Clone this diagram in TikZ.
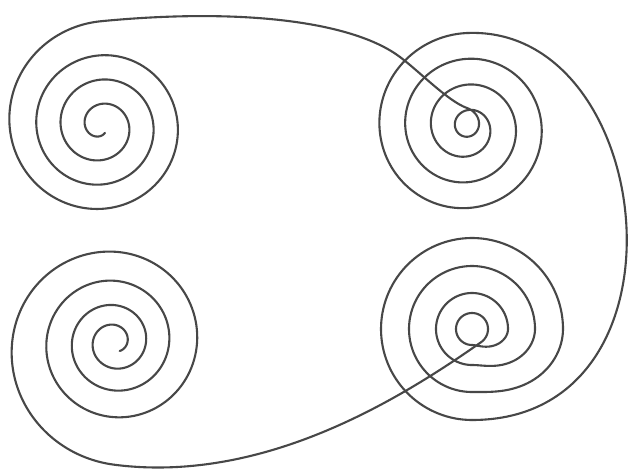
\documentclass[tikz,border=0pt]{standalone}
\begin{document}
\begin{tikzpicture}[x=1pt,y=-1pt,
  curve/.style={line width=2.1pt, draw=black!72, line cap=round, line join=round},
  declare function={
    tlf(\a)=max(0,(\a-1170)/100);
    tlr(\a)=3.8+0.0676*\a+3*tlf(\a)*tlf(\a);
    trd(\a)=max(0,(360-\a)/100);
    trr(\a)=23+0.0717*(\a-360)+0.31*trd(\a)*trd(\a)*trd(\a);
    blq(\a)=\a/100;
    blf(\a)=max(0,(\a-1170)/100);
    blr(\a)=13+0.045*\a+0.18*blq(\a)*blq(\a)+5*blf(\a)*blf(\a);
    bru(\a)=(\a-90)/360;
    brk(\a)=floor(bru(\a));
    brt(\a)=max(0,(bru(\a)-brk(\a)-0.75)*4);
    brx(\a)=min(3,brk(\a)+brt(\a)*brt(\a)*(3-2*brt(\a)));
    brr(\a)=91-26.5*brx(\a)-2.5*brx(\a)*brx(\a)+brx(\a)*brx(\a)*brx(\a);
  }]
\fill[white] (0,0) rectangle (628,471);
\useasboundingbox (0,0) rectangle (628,471);

% junction points
\coordinate (tlEnd) at (101,21.22);
\coordinate (topMid) at (400,57);
\coordinate (trStart) at (467,108.02);
\coordinate (trEnd) at (467,33.02);
\coordinate (brStart) at (472,420);
\coordinate (brEnd) at (481.18,342.11);
\coordinate (blEnd) at (114.5,464.75);

% top-left spiral
\draw[curve] plot[variable=\p, domain=60:1350, samples=430, smooth]
  ({101+tlr(\p)*cos(\p)}, {126+tlr(\p)*sin(\p)});

% top arc into the top-right spiral
\draw[curve] (tlEnd) .. controls (240.4,7.8) and (352,21) .. (topMid)
  .. controls (420,72) and (448.1,101.3) .. (trStart);

% top-right spiral
\draw[curve] plot[variable=\p, domain=-90:1350, samples=480, smooth]
  ({467+trr(\p)*cos(\p)}, {127+trr(\p)*sin(\p)});

% right arc
\draw[curve] (trEnd) .. controls (657,24.7) and (700,420) .. (brStart);

% bottom-right spiral
\draw[curve] plot[variable=\p, domain=90:1495, samples=520, smooth]
  ({472+brr(\p)*cos(\p)}, {329+brr(\p)*sin(\p)});

% bottom arc
\draw[curve] (brEnd) .. controls (399.3,399.5) and (263.3,483.8) .. (blEnd);

% bottom-left spiral
\draw[curve] plot[variable=\p, domain=-60:1350, samples=470, smooth]
  ({114.5+blr(\p)*cos(\p)}, {342-blr(\p)*sin(\p)});
\end{tikzpicture}
\end{document}
